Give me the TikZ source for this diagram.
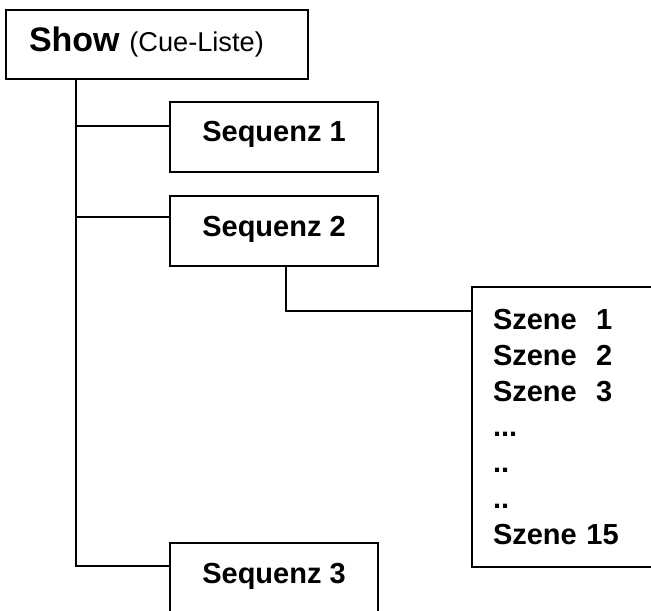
\documentclass[tikz,border=0pt]{standalone}
\usepackage{fontspec}
\setmainfont{Liberation Sans}
\begin{document}
\begin{tikzpicture}[x=0.5pt,y=-0.5pt,line width=1pt,
        box/.style={draw,line width=1pt,inner sep=0pt,
            font=\fontsize{14.5}{17.9}\selectfont\bfseries},
        seqbox/.style={box,minimum width=104pt,minimum height=35pt,
            text height=11pt,text depth=6pt}
    ]
    \useasboundingbox (0,0) rectangle (651,610);
    \clip (0,0) rectangle (651,610);

    \node [box,minimum width=151pt,minimum height=34.5pt,text height=12pt,text depth=5pt,
           inner xsep=11.5pt,text width=128pt,align=left]
        (show) at (157,44.5)
        {{\fontsize{17}{20}\selectfont Show} {\mdseries\fontsize{13.6}{16}\selectfont(Cue-Liste)}};
    \node [seqbox] (seq1) at (274,136.5) {Sequenz 1};
    \node [seqbox] (seq2) at (274,231) {Sequenz 2};
    \node [seqbox] (seq3) at (274,578) {Sequenz 3};
    \node [box,minimum width=94pt,minimum height=140pt,
           inner xsep=10.5pt,text width=73pt,align=left]
        (szenen) at (566,427)
        {Szene\ \ 1\\Szene\ \ 2\\Szene\ \ 3\\...\\..\\..\\Szene 15};

    \coordinate (root) at ([xshift=35.5pt]show.south west);
    \coordinate (in1) at ([yshift=-12.5pt]seq1.north west);
    \coordinate (in2) at ([yshift=-11pt]seq2.north west);
    \coordinate (in3) at ([yshift=-12pt]seq3.north west);
    \coordinate (out2) at ([xshift=6pt]seq2.south);
    \coordinate (inszenen) at ([yshift=-12.5pt]szenen.north west);
    \draw
        (root) |- (in3)
        (root |- in1) -- (in1)
        (root |- in2) -- (in2)
        (out2) |- (inszenen)
    ;
\end{tikzpicture}
\end{document}
